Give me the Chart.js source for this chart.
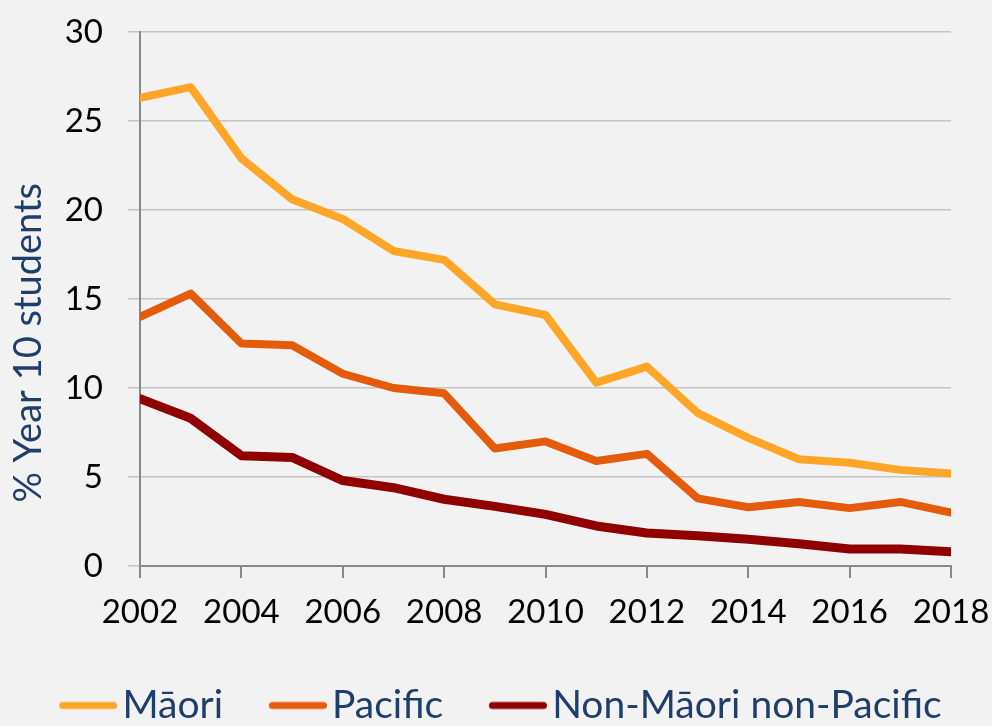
<!DOCTYPE html>
<html>
<head>
<meta charset="utf-8">
<script src="https://cdn.jsdelivr.net/npm/chart.js@4/dist/chart.umd.min.js"></script>
<style>
  html, body { margin: 0; padding: 0; background: #f2f2f2; }
  #wrap { width: 992px; height: 726px; }
</style>
</head>
<body>
<div id="wrap"><canvas id="lineChart"></canvas></div>
<script>
// data
const years = [2002, 2003, 2004, 2005, 2006, 2007, 2008, 2009, 2010, 2011, 2012, 2013, 2014, 2015, 2016, 2017, 2018];
const maori = [26.3, 26.9, 22.9, 20.6, 19.5, 17.7, 17.2, 14.7, 14.1, 10.3, 11.2, 8.6, 7.2, 6.0, 5.8, 5.4, 5.2];
const pacific = [14.0, 15.3, 12.5, 12.4, 10.8, 10.0, 9.7, 6.6, 7.0, 5.9, 6.3, 3.8, 3.3, 3.6, 3.25, 3.6, 3.0];
const nonMaoriPacific = [9.4, 8.3, 6.2, 6.1, 4.8, 4.4, 3.75, 3.35, 2.9, 2.25, 1.85, 1.7, 1.5, 1.25, 0.95, 0.95, 0.8];

const seriesNames = ['Māori', 'Pacific', 'Non-Māori non-Pacific'];
const seriesColors = ['#ffa629', '#e35b0b', '#8f0000'];
const seriesWidths = [8, 8, 9];

const labelFont = 'Lato, "Open Sans", sans-serif';
const textBlue = '#1f3e6a';

// x is linear, so pair each value with its year
function toPoints(values) {
	return years.map((y, i) => ({ x: y, y: values[i] }));
}

// legend swatch: short thick line with round ends, sitting close to its text
const legendFontSize = 39;
const swatchLen = 58;
const swatchGap = 5;
const swatchLead = 46; // empty space before each swatch
const legendBoxW = swatchLead + swatchLen + swatchGap - legendFontSize / 2;
function makeSwatch(color) {
	const c = document.createElement('canvas');
	c.width = legendBoxW + 2 * (legendFontSize / 2 - swatchGap);
	c.height = 10;
	const g = c.getContext('2d');
	g.strokeStyle = color;
	g.lineWidth = 7;
	g.lineCap = 'round';
	g.beginPath();
	g.moveTo(c.width - swatchLen + 3.5, 5);
	g.lineTo(c.width - 3.5, 5);
	g.stroke();
	return c;
}

const allValues = [maori, pacific, nonMaoriPacific];

const config = {
	type: 'line',
	data: {
		datasets: allValues.map((vals, i) => ({
			label: seriesNames[i],
			data: toPoints(vals),
			borderColor: seriesColors[i],
			backgroundColor: seriesColors[i],
			borderWidth: seriesWidths[i],
			borderJoinStyle: 'round',
			borderCapStyle: 'round',
			pointRadius: 0,
			tension: 0
		}))
	},
	options: {
		responsive: true,
		maintainAspectRatio: false,
		animation: false,
		layout: { padding: { top: 32, right: 41, left: 4, bottom: -9 } },
		scales: {
			x: {
				type: 'linear',
				min: 2002,
				max: 2018,
				afterFit: s => { s.height = 120; s.paddingLeft = 0; s.paddingRight = 0; },
				ticks: {
					stepSize: 2,
					color: '#000',
					font: { family: labelFont, size: 33 },
					padding: 15,
					maxRotation: 0,
					callback: v => String(v)
				},
				grid: { drawOnChartArea: false, color: '#898989', tickLength: 12, lineWidth: 2 },
				border: { color: '#898989', width: 2 }
			},
			y: {
				min: 0,
				max: 30,
				afterFit: s => { s.width = 136; s.paddingTop = 0; s.paddingBottom = 0; },
				ticks: {
					stepSize: 5,
					color: '#000',
					font: { family: labelFont, size: 33 },
					padding: 25
				},
				grid: { color: '#c4c4c4', tickLength: 12, lineWidth: 1.5 },
				border: { color: '#898989', width: 2 },
				title: {
					display: true,
					// trailing spaces push the centred title down, as in the original
					text: '% Year 10 students'.padEnd(27, ' '),
					color: textBlue,
					font: { family: labelFont, size: 38 },
					padding: { top: 2, bottom: 0 }
				}
			}
		},
		plugins: {
			tooltip: { enabled: false },
			legend: {
				position: 'bottom',
				labels: {
					usePointStyle: true,
					pointStyleWidth: legendBoxW,
					padding: 0,
					color: textBlue,
					font: { family: labelFont, size: legendFontSize },
					generateLabels: chart => chart.data.datasets.map((ds, i) => ({
						text: ds.label,
						pointStyle: makeSwatch(ds.borderColor),
						strokeStyle: ds.borderColor,
						fillStyle: ds.borderColor,
						lineWidth: 0,
						fontColor: textBlue,
						datasetIndex: i,
						hidden: false
					}))
				}
			}
		}
	}
};

new Chart(document.getElementById('lineChart'), config);
</script>
</body>
</html>
